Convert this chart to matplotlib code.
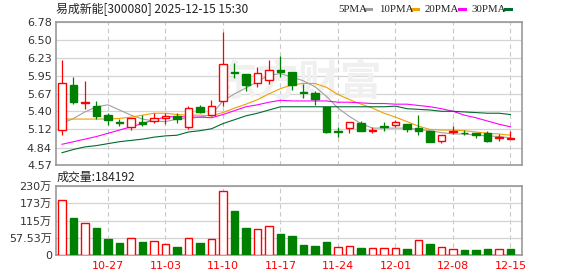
import matplotlib
matplotlib.use('Agg')
import matplotlib.pyplot as plt
from matplotlib.lines import Line2D
import numpy as np

plt.rcParams['font.family'] = ['DejaVu Sans', 'Noto Sans CJK SC']

# ---- data ----
dates = ['10-21', '10-22', '10-23', '10-24',
         '10-27', '10-28', '10-29', '10-30', '10-31',
         '11-03', '11-04', '11-05', '11-06', '11-07',
         '11-10', '11-11', '11-12', '11-13', '11-14',
         '11-17', '11-18', '11-19', '11-20', '11-21',
         '11-24', '11-25', '11-26', '11-27', '11-28',
         '12-01', '12-02', '12-03', '12-04', '12-05',
         '12-08', '12-09', '12-10', '12-11', '12-12',
         '12-15']
opens = [5.11, 5.81, 5.53, 5.48, 5.34, 5.23, 5.16, 5.24, 5.25, 5.29,
         5.33, 5.16, 5.46, 5.35, 5.56, 6.01, 5.98, 5.83, 5.88, 6.04,
         6.00, 5.70, 5.69, 5.46, 5.09, 5.14, 5.22, 5.09, 5.17, 5.19,
         5.20, 5.14, 5.10, 4.94, 5.08, 5.07, 5.06, 5.06, 4.98, 4.97]
closes = [5.83, 5.55, 5.54, 5.32, 5.26, 5.22, 5.29, 5.20, 5.29, 5.33,
          5.28, 5.45, 5.39, 5.48, 6.13, 5.99, 5.81, 5.99, 6.04, 6.01,
          5.80, 5.69, 5.59, 5.08, 5.08, 5.24, 5.10, 5.11, 5.16, 5.24,
          5.12, 5.10, 4.93, 5.04, 5.09, 5.06, 5.03, 4.94, 5.01, 4.99]
highs = [6.19, 5.93, 5.87, 5.56, 5.37, 5.28, 5.30, 5.35, 5.38, 5.38,
         5.37, 5.48, 5.50, 5.58, 6.62, 6.15, 5.98, 6.08, 6.19, 6.25,
         6.01, 5.82, 5.71, 5.46, 5.16, 5.24, 5.25, 5.16, 5.24, 5.27,
         5.20, 5.34, 5.10, 5.04, 5.17, 5.11, 5.06, 5.09, 5.05, 5.09]
lows = [5.04, 5.52, 5.43, 5.28, 5.19, 5.18, 5.11, 5.18, 5.22, 5.20,
        5.22, 5.12, 5.37, 5.33, 5.48, 5.92, 5.71, 5.78, 5.82, 5.93,
        5.73, 5.61, 5.50, 5.07, 5.01, 5.07, 5.09, 5.06, 5.09, 5.16,
        5.08, 5.03, 4.93, 4.91, 5.05, 5.04, 4.98, 4.93, 4.94, 4.97]

ma5 = [5.21, 5.29, 5.39, 5.47, 5.50, 5.42, 5.34, 5.28, 5.25, 5.24,
       5.28, 5.29, 5.31, 5.35, 5.56, 5.67, 5.76, 5.86, 5.96, 5.98,
       5.93, 5.87, 5.78, 5.63, 5.45, 5.32, 5.21, 5.14, 5.14, 5.14,
       5.14, 5.12, 5.10, 5.07, 5.05, 5.05, 5.03, 5.02, 5.01, 4.99]
ma10 = [5.28, 5.28, 5.28, 5.28, 5.28, 5.29, 5.31, 5.34, 5.37, 5.37,
        5.35, 5.34, 5.34, 5.33, 5.38, 5.45, 5.51, 5.58, 5.67, 5.75,
        5.81, 5.83, 5.83, 5.77, 5.66, 5.58, 5.51, 5.45, 5.37, 5.31,
        5.24, 5.17, 5.12, 5.11, 5.11, 5.10, 5.08, 5.06, 5.05, 5.03]
ma20 = [4.89, 4.93, 4.97, 5.01, 5.06, 5.11, 5.16, 5.21, 5.27, 5.31,
        5.32, 5.31, 5.31, 5.30, 5.35, 5.41, 5.47, 5.50, 5.54, 5.57,
        5.56, 5.56, 5.56, 5.56, 5.54, 5.54, 5.53, 5.52, 5.52, 5.51,
        5.51, 5.49, 5.47, 5.44, 5.40, 5.34, 5.30, 5.25, 5.20, 5.16]
ma30 = [4.76, 4.81, 4.85, 4.87, 4.90, 4.93, 4.95, 4.97, 5.00, 5.02,
        5.03, 5.08, 5.10, 5.13, 5.21, 5.27, 5.33, 5.37, 5.42, 5.47,
        5.47, 5.47, 5.47, 5.47, 5.47, 5.47, 5.47, 5.47, 5.47, 5.48,
        5.44, 5.43, 5.42, 5.40, 5.40, 5.39, 5.38, 5.37, 5.37, 5.35]

# volume in 万 shares; 1 = red hollow bar, 0 = green solid bar
volumes = [183, 124, 108, 91, 53, 41, 56, 43, 47, 37,
           28, 56, 41, 53, 213, 148, 91, 87, 97, 71,
           63, 33, 30, 44, 26, 30, 23, 22, 22, 22,
           20, 50, 37, 26, 19, 17, 17, 20, 19, 18.42]
vol_up = [1, 0, 1, 0, 0, 0, 1, 0, 1, 1, 0, 1, 0, 1, 1, 0, 0, 1, 1, 0,
          0, 0, 0, 0, 1, 1, 0, 1, 1, 1, 0, 1, 0, 1, 1, 0, 0, 0, 1, 0]

price_ticks = [4.57, 4.84, 5.12, 5.40, 5.67, 5.95, 6.23, 6.50, 6.78]
vol_ticks = [0, 57.53, 115, 172.5, 230]
vol_tick_labels = ['0', '57.53万', '115万', '173万', '230万']
week_dates = ['10-27', '11-03', '11-10', '11-17', '11-24', '12-01', '12-08', '12-15']

RED = '#ff0000'
GREEN = '#008000'
GRID = '#d4d4d4'
FRAME = '#999999'

x = np.arange(len(dates))
o = np.array(opens)
c = np.array(closes)
up = c >= o

fig = plt.figure(figsize=(5.78, 2.76), dpi=100)
W, H = 578, 276
ax = fig.add_axes([56 / W, 1 - 165 / H, 466 / W, 143 / H])
axv = fig.add_axes([56 / W, 1 - 255 / H, 466 / W, 69 / H])

week_idx = [dates.index(d) for d in week_dates]

for a in (ax, axv):
    a.set_xlim(-0.52, 40.0)
    for s in a.spines.values():
        s.set_color(FRAME)
        s.set_linewidth(1.2)
    a.tick_params(length=0, labelsize=8, colors='#333333', pad=3)
    for wi in week_idx:
        a.axvline(wi, color='#c8c8c8', lw=0.8, ls=(0, (4, 3)), zorder=0)

# price panel
ax.set_ylim(4.57, 6.78)
ax.set_yticks(price_ticks)
ax.set_yticklabels(['%.2f' % p for p in price_ticks])
ax.set_xticks([])
for p in price_ticks:
    ax.axhline(p, color=GRID, lw=0.9, zorder=0)

ax.text(0.52, 0.58, '东方财富', transform=ax.transAxes, ha='center', va='center',
        fontsize=30, color='#f0f0f0', family=['Noto Sans CJK SC'], fontweight='bold', zorder=0.5)

ax.plot(x, ma5, color='#a0a0a0', lw=0.8, zorder=2)
ax.plot(x, ma10, color='#f0a000', lw=0.8, zorder=2)
ax.plot(x, ma20, color='#ff00ff', lw=0.8, zorder=2)
ax.plot(x, ma30, color='#006a30', lw=0.8, zorder=2)

col = np.where(up, RED, GREEN)
ax.vlines(x, lows, highs, colors=col, lw=0.9, zorder=3)
face = np.where(up, 'white', GREEN)
face[-1] = RED  # last candle drawn solid red
ax.bar(x, np.abs(c - o), bottom=np.minimum(o, c), width=0.62,
       color=face, edgecolor=col, linewidth=1.0, zorder=4)

# volume panel
axv.set_ylim(0, 230)
axv.set_yticks(vol_ticks)
axv.set_yticklabels(vol_tick_labels)
for v in vol_ticks[1:]:
    axv.axhline(v, color=GRID, lw=0.9, zorder=0)
vup = np.array(vol_up, dtype=bool)
axv.bar(x, volumes, width=0.62, color=np.where(vup, 'white', GREEN),
        edgecolor=np.where(vup, RED, GREEN), linewidth=1.0, zorder=3)
axv.set_xticks(week_idx)
axv.set_xticklabels(week_dates)
axv.tick_params(axis='x', colors=RED, pad=4)

# header texts
fig.text(56 / W, 1 - 9 / H, '易成新能[300080] 2025-12-15 15:30', fontsize=8.6,
         family=['Noto Sans CJK SC', 'DejaVu Sans'], va='center', ha='left', color='#222222')
fig.text(57 / W, 1 - 177 / H, '成交量:184192', fontsize=8.6,
         family=['Noto Sans CJK SC', 'DejaVu Sans'], va='center', ha='left', color='#222222')

legend = [('5PMA', 338, 365, '#a0a0a0'), ('10PMA', 379, 412, '#f0a000'),
          ('20PMA', 425, 459, '#ff00ff'), ('30PMA', 471, 505, '#006a30')]
for name, tx, lx, lc in legend:
    fig.text(tx / W, 1 - 9 / H, name, fontsize=7.8, family='Liberation Serif',
             va='center', ha='left', color='#222222')
    fig.add_artist(Line2D([lx / W, (lx + 6) / W], [1 - 9 / H, 1 - 9 / H],
                          color=lc, lw=2.2, transform=fig.transFigure))

fig.savefig('out.png', dpi=100)
